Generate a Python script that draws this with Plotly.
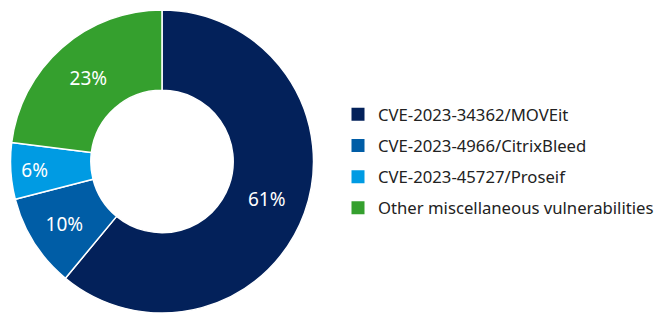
import plotly.graph_objects as go

labels = ["CVE-2023-34362/MOVEit", "CVE-2023-4966/CitrixBleed", "CVE-2023-45727/Proseif",
          "Other miscellaneous vulnerabilities"]
values = [61, 10, 6, 23]
colors = ["#03215A", "#005DA6", "#009BE3", "#35A02E"]

W, H = 665, 313
fig = go.Figure()
fig.add_trace(go.Pie(
    labels=labels, values=values, sort=False, direction="clockwise", rotation=0,
    hole=0.47,
    marker=dict(colors=colors, line=dict(color="white", width=1.5)),
    texttemplate="%{value}%", textposition="inside", insidetextorientation="horizontal",
    textfont=dict(color="white", size=19, family="Noto Sans"),
    hoverinfo="label+percent", showlegend=False,
    domain=dict(x=[2.5 / W, 305.5 / W], y=[8 / H, 311 / H]),
))
for lab, col in zip(labels, colors):
    fig.add_trace(go.Scatter(
        x=[None], y=[None], mode="markers", name=lab, legendgroup=lab,
        marker=dict(symbol="square", size=13, color=col, line=dict(width=0)),
        hoverinfo="skip",
    ))
fig.update_layout(
    width=W, height=H, margin=dict(l=0, r=0, t=0, b=0),
    paper_bgcolor="white", plot_bgcolor="white",
    font=dict(family="Noto Sans", size=17, color="#222222"),
    xaxis=dict(visible=False), yaxis=dict(visible=False),
    legend=dict(x=330 / W, y=0.51, xanchor="left", yanchor="middle",
                font=dict(size=16.7, color="#222222", family="Noto Sans"),
                itemwidth=30, tracegroupgap=6.5, traceorder="grouped"),
    showlegend=True,
)
fig.write_html("out.html")
